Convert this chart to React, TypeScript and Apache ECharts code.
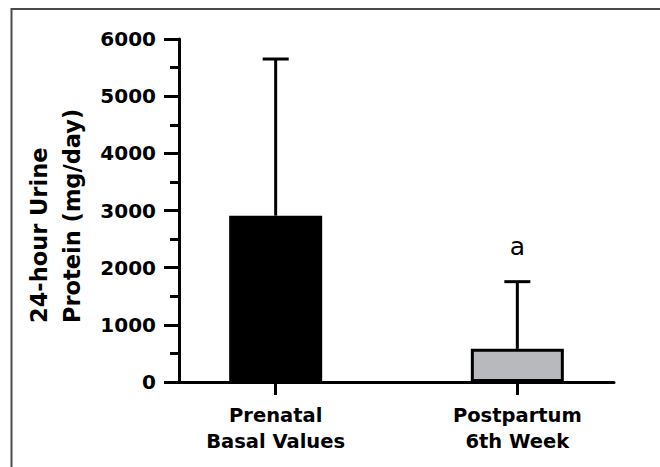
import React, { useEffect, useRef } from "react";
import * as echarts from "echarts";

const categories = ["Prenatal\nBasal Values", "Postpartum\n6th Week"];
const means = [2910, 580];
const sds = [2740, 1175];
const annotations = ["", "a"];
const barColors = ["#000000", "#b8b9bd"];
const yTicks = [0, 1000, 2000, 3000, 4000, 5000, 6000];

export default function App() {
  const ref = useRef<HTMLDivElement>(null);
  useEffect(() => {
    if (!ref.current) return;
    const chart = echarts.init(ref.current, null, { renderer: "svg" });
    const font = "DejaVu Sans";
    chart.setOption({
      animation: false,
      backgroundColor: "#ffffff",
      grid: { left: 179, right: 46, top: 39, bottom: 85 },
      xAxis: {
        type: "value",
        min: -0.4,
        max: 1.4,
        splitLine: { show: false },
        axisLine: { show: true, onZero: false, lineStyle: { color: "#000", width: 3 } },
        axisTick: { show: true, customValues: [0, 1], length: 13, lineStyle: { color: "#000", width: 3 } },
        axisLabel: {
          customValues: [0, 1],
          formatter: (v: number) => categories[Math.round(v)] ?? "",
          margin: 20,
          color: "#000",
          fontFamily: font,
          fontWeight: "bold",
          fontSize: 19.5,
          lineHeight: 26,
          align: "center",
        },
      },
      yAxis: {
        type: "value",
        min: yTicks[0],
        max: yTicks[yTicks.length - 1],
        interval: 1000,
        splitLine: { show: false },
        axisLine: { show: true, onZero: false, lineStyle: { color: "#000", width: 3 } },
        axisTick: { show: true, length: 15, lineStyle: { color: "#000", width: 3 } },
        minorTick: { show: true, splitNumber: 2, length: 9, lineStyle: { color: "#000", width: 3 } },
        axisLabel: {
          margin: 23,
          formatter: (v: number) => String(v),
          color: "#000",
          fontFamily: font,
          fontWeight: "bold",
          fontSize: 20,
        },
      },
      graphic: [
        {
          type: "rect",
          shape: { x: 11.5, y: 9, width: 700, height: 500 },
          style: { fill: "none", stroke: "#4a4a4a", lineWidth: 2 },
          silent: true,
        },
        {
          type: "text",
          x: 55.5,
          y: 323,
          rotation: Math.PI / 2,
          style: {
            text: "24-hour Urine\nProtein (mg/day)",
            fontFamily: font,
            fontWeight: "bold",
            fontSize: 22.5,
            lineHeight: 33,
            fill: "#000",
            align: "left",
            verticalAlign: "middle",
          },
        },
      ],
      series: [
        {
          type: "custom",
          z: 1,
          data: means.map((m, i) => [i, m, m + sds[i]]),
          renderItem: (params: any, api: any) => {
            const x = api.value(0);
            const base = api.coord([x, api.value(1)]);
            const top = api.coord([x, api.value(2)]);
            const children: any[] = [
              {
                type: "line",
                shape: { x1: base[0], y1: base[1], x2: top[0], y2: top[1] },
                style: { stroke: "#000", lineWidth: 3 },
              },
              {
                type: "line",
                shape: { x1: top[0] - 13, y1: top[1], x2: top[0] + 13, y2: top[1] },
                style: { stroke: "#000", lineWidth: 3 },
              },
            ];
            const ann = annotations[params.dataIndex];
            if (ann) {
              children.push({
                type: "text",
                x: top[0],
                y: top[1] - 35,
                style: {
                  text: ann,
                  fontFamily: font,
                  fontSize: 25,
                  fill: "#000",
                  align: "center",
                  verticalAlign: "middle",
                },
              });
            }
            return { type: "group", children };
          },
        },
        {
          type: "bar",
          z: 3,
          barWidth: 93,
          data: means.map((m, i) => ({
            value: [i, m],
            itemStyle: { color: barColors[i], borderColor: "#000", borderWidth: 3 },
          })),
        },
      ],
    });
    return () => chart.dispose();
  }, []);
  return (
    <div
      ref={ref}
      style={{ position: "fixed", left: 0, top: 0, width: 660, height: 467 }}
    />
  );
}
